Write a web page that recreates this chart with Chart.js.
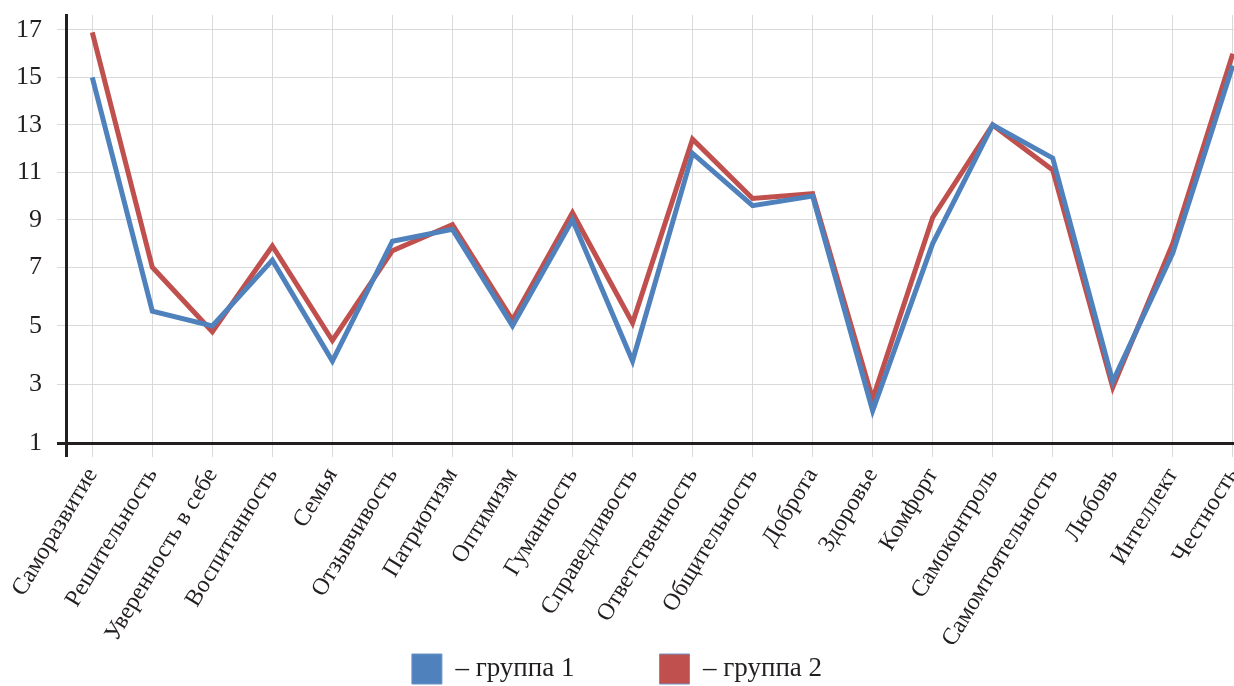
<!DOCTYPE html>
<html lang="ru">
<head>
<meta charset="utf-8">
<title>Ценности: группа 1 и группа 2</title>
<script src="https://cdn.jsdelivr.net/npm/chart.js@4.4.1/dist/chart.umd.min.js"></script>
<style>
  html, body { margin: 0; padding: 0; background: #fff; }
  #wrap { width: 1234px; height: 686px; }
</style>
</head>
<body>
<div id="wrap"><canvas id="valuesChart"></canvas></div>
<script>
// ─── Data ─────────────────────────────────────────────────────────────────────
const categories = [
    'Саморазвитие', 'Решительность', 'Уверенность в себе', 'Воспитанность',
    'Семья', 'Отзывчивость', 'Патриотизм', 'Оптимизм', 'Гуманность',
    'Справедливость', 'Ответственность', 'Общительность', 'Доброта',
    'Здоровье', 'Комфорт', 'Самоконтроль', 'Самомтоятельность', 'Любовь',
    'Интеллект', 'Честность'
];
const group1 = [15.0, 5.5, 5.0, 7.3, 3.8, 8.1, 8.6, 5.0, 9.0, 3.8,
                11.8, 9.6, 10.0, 2.1, 8.0, 13.0, 11.6, 3.1, 7.6, 15.5];
const group2 = [16.9, 7.0, 4.8, 7.9, 4.5, 7.7, 8.8, 5.2, 9.3, 5.1,
                12.4, 9.9, 10.1, 2.5, 9.1, 13.0, 11.1, 2.9, 8.0, 16.0];
const yTickValues = [1, 3, 5, 7, 9, 11, 13, 15, 17];

// The value axis of the original is not uniform: 1..7 gets more room per unit
// than 7..17.  Breakpoints (value -> share of the plot height from the bottom).
const yBreakValues = [1, 7, 17, 17.63];
const yBreakShares = [0, 0.4105, 0.965, 1];

const BLUE = '#4f81bd';
const RED  = '#c0504d';
const AXIS = '#231f20';
const GRID = '#d9d9d9';

// ─── Piecewise linear scale ──────────────────────────────────────────────────
function interp(v, from, to) {
    const last = from.length - 1;
    let i = 1;
    while (i < last && v > from[i]) i++;
    const t = (v - from[i - 1]) / (from[i] - from[i - 1]);
    return to[i - 1] + t * (to[i] - to[i - 1]);
}

class BrokenLinearScale extends Chart.LinearScale {
    getPixelForValue(value) {
        return this.getPixelForDecimal(interp(value, yBreakValues, yBreakShares));
    }
    getValueForPixel(pixel) {
        return interp(this.getDecimalForPixel(pixel), yBreakShares, yBreakValues);
    }
}
BrokenLinearScale.id = 'brokenLinear';
BrokenLinearScale.defaults = Chart.LinearScale.defaults;
Chart.register(BrokenLinearScale);

Chart.defaults.font.family = "'Liberation Serif', 'DejaVu Serif', serif";
Chart.defaults.color = AXIS;

// ─── Chart ───────────────────────────────────────────────────────────────────
const lineSet = (label, values, color) => ({
    label,
    data: values.map((v, i) => ({ x: i, y: v })),
    borderColor: color,
    backgroundColor: color,
    borderWidth: 5,
    pointRadius: 0,
    pointHoverRadius: 0,
    tension: 0,
    clip: false
});

const isAxisTick = ctx => ctx.tick && ctx.tick.value < 0;

// legend padding has to stay small (it also shifts the items down), so the gap
// between the two entries comes from en spaces after the first label
const LEGEND_GAP = '\u2002'.repeat(6);

new Chart(document.getElementById('valuesChart'), {
    type: 'line',
    data: {
        datasets: [
            lineSet('– группа 1' + LEGEND_GAP, group1, BLUE),
            lineSet('– группа 2', group2, RED)
        ]
    },
    options: {
        responsive: true,
        maintainAspectRatio: false,
        animation: false,
        layout: { padding: { top: 15, right: 0, bottom: -8, left: 0 } },
        plugins: {
            tooltip: { enabled: false },
            legend: {
                position: 'bottom',
                labels: {
                    boxWidth: 30,
                    boxHeight: 30,
                    padding: 4,
                    color: AXIS,
                    font: { size: 27 },
                    generateLabels: chart =>
                        Chart.defaults.plugins.legend.labels.generateLabels(chart)
                            .map(item => ({ ...item, lineWidth: 1, strokeStyle: '#6b93c8' }))
                }
            }
        },
        scales: {
            x: {
                type: 'linear',
                min: -0.438,
                max: 19.02,
                afterBuildTicks: s => {
                    s.ticks = [{ value: s.min }].concat(categories.map((c, i) => ({ value: i })));
                },
                afterFit: s => {
                    s.height = 207;
                    s.paddingLeft = 0;
                    s.paddingRight = 0;
                },
                ticks: {
                    autoSkip: false,
                    minRotation: 59,
                    maxRotation: 59,
                    padding: 6,
                    font: { size: 24 },
                    callback: v => Number.isInteger(v) ? categories[v] : ''
                },
                grid: {
                    color: ctx => isAxisTick(ctx) ? AXIS : GRID,
                    lineWidth: ctx => isAxisTick(ctx) ? 3 : 1,
                    tickLength: 14
                },
                border: { color: AXIS, width: 3 }
            },
            y: {
                type: 'brokenLinear',
                min: 1,
                max: 17.63,
                afterBuildTicks: s => {
                    s.ticks = yTickValues.map(v => ({ value: v }));
                },
                afterFit: s => {
                    s.width = 66;
                    s.paddingTop = 0;
                    s.paddingBottom = 0;
                },
                ticks: {
                    padding: 15,
                    font: { size: 26 },
                    callback: v => String(v)
                },
                grid: {
                    color: ctx => ctx.tick && ctx.tick.value === 1 ? AXIS : GRID,
                    lineWidth: ctx => ctx.tick && ctx.tick.value === 1 ? 3 : 1,
                    tickLength: 9
                },
                border: { color: AXIS, width: 3 }
            }
        }
    }
});
</script>
</body>
</html>
